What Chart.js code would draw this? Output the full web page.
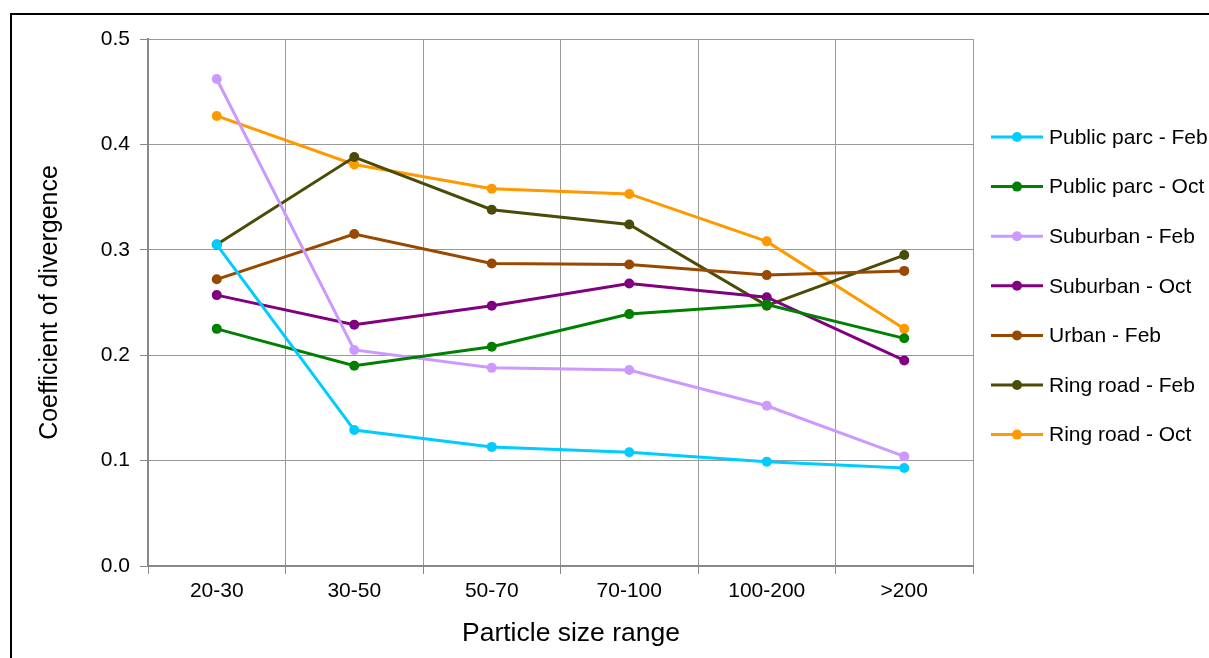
<!DOCTYPE html>
<html>
<head>
<meta charset="utf-8">
<script src="https://cdn.jsdelivr.net/npm/chart.js@4.4.1/dist/chart.umd.min.js"></script>
<style>
  html, body { margin: 0; padding: 0; background: #fff; }
  #wrap { position: relative; width: 1209px; height: 658px; }
</style>
</head>
<body>
<div id="wrap"><canvas id="chart" width="1209" height="658"></canvas></div>
<script>
// Data
const sizeRanges = ['20-30', '30-50', '50-70', '70-100', '100-200', '>200'];
const seriesNames = ['Public parc - Feb', 'Public parc - Oct', 'Suburban - Feb', 'Suburban - Oct',
                     'Urban - Feb', 'Ring road - Feb', 'Ring road - Oct'];
const publicParcFeb = [0.305, 0.129, 0.113, 0.108, 0.099, 0.093];
const publicParcOct = [0.225, 0.190, 0.208, 0.239, 0.248, 0.216];
const suburbanFeb   = [0.462, 0.205, 0.188, 0.186, 0.152, 0.104];
const suburbanOct   = [0.257, 0.229, 0.247, 0.268, 0.255, 0.195];
const urbanFeb      = [0.272, 0.315, 0.287, 0.286, 0.276, 0.280];
const ringRoadFeb   = [0.305, 0.388, 0.338, 0.324, 0.247, 0.295];
const ringRoadOct   = [0.427, 0.381, 0.358, 0.353, 0.308, 0.225];
const yTicks = [0.0, 0.1, 0.2, 0.3, 0.4, 0.5];

const seriesValues = [publicParcFeb, publicParcOct, suburbanFeb, suburbanOct, urbanFeb, ringRoadFeb, ringRoadOct];
const seriesColors = ['#00CCFF', '#008000', '#CC99FF', '#800080', '#994800', '#4B4B08', '#FF9900'];

const FONT = 'Liberation Sans, Arial, sans-serif';
const xTitle = 'Particle size range';

// Frame, x title and custom legend (line with dot, like the original)
const framePlugin = {
    id: 'frame',
    beforeDraw(chart) {
        const ctx = chart.ctx;
        ctx.save();
        ctx.fillStyle = '#fff';
        ctx.fillRect(0, 0, chart.width, chart.height);
        ctx.strokeStyle = '#000';
        ctx.lineWidth = 2;
        ctx.strokeRect(11, 14, chart.width + 20, chart.height + 20);
        ctx.restore();
    },
    afterDraw(chart) {
        const ctx = chart.ctx;
        ctx.save();
        ctx.fillStyle = '#000';
        ctx.font = '26.5px ' + FONT;
        ctx.textAlign = 'center';
        ctx.textBaseline = 'middle';
        ctx.fillText(xTitle, 571, 634);

        ctx.textAlign = 'left';
        ctx.font = '21px ' + FONT;
        chart.data.datasets.forEach((ds, i) => {
            const y = 137 + i * 49.6;
            ctx.strokeStyle = ds.borderColor;
            ctx.lineWidth = 3;
            ctx.beginPath();
            ctx.moveTo(991, y);
            ctx.lineTo(1043, y);
            ctx.stroke();
            ctx.fillStyle = ds.borderColor;
            ctx.beginPath();
            ctx.arc(1017, y, 5, 0, Math.PI * 2);
            ctx.fill();
            ctx.fillStyle = '#000';
            ctx.fillText(ds.label, 1049, y + 1);
        });
        ctx.restore();
    }
};

const ctx = document.getElementById('chart').getContext('2d');
new Chart(ctx, {
    type: 'line',
    data: {
        labels: sizeRanges,
        datasets: seriesNames.map((name, i) => ({
            label: name,
            data: seriesValues[i],
            borderColor: seriesColors[i],
            backgroundColor: seriesColors[i],
            pointBackgroundColor: seriesColors[i],
            pointBorderWidth: 0,
            pointRadius: 5,
            borderWidth: 3,
            tension: 0,
            fill: false
        }))
    },
    options: {
        responsive: false,
        animation: false,
        devicePixelRatio: 1,
        layout: { padding: { left: 35, top: 39, right: 236, bottom: 6 } },
        plugins: {
            legend: { display: false },
            tooltip: { enabled: false }
        },
        scales: {
            x: {
                offset: true,
                grid: { color: '#999', lineWidth: 1, tickLength: 8, offset: true, tickColor: '#888' },
                border: { color: '#888', width: 2 },
                ticks: { color: '#000', font: { family: FONT, size: 21 }, padding: 5, maxRotation: 0 },
                title: { display: false },
                afterFit(scale) { scale.height = 86; }
            },
            y: {
                min: 0,
                max: 0.5,
                afterBuildTicks(scale) { scale.ticks = yTicks.map(v => ({ value: v })); },
                grid: { color: '#999', lineWidth: 1, tickLength: 8, tickColor: '#888' },
                border: { color: '#888', width: 2 },
                ticks: {
                    color: '#000', font: { family: FONT, size: 21 }, padding: 10,
                    callback: v => v.toFixed(1)
                },
                title: { display: true, text: 'Coefficient of divergence', color: '#000',
                         font: { family: FONT, size: 25 }, padding: { top: 0, bottom: 0 } },
                afterFit(scale) { scale.width = 113; }
            }
        }
    },
    plugins: [framePlugin]
});
</script>
</body>
</html>
